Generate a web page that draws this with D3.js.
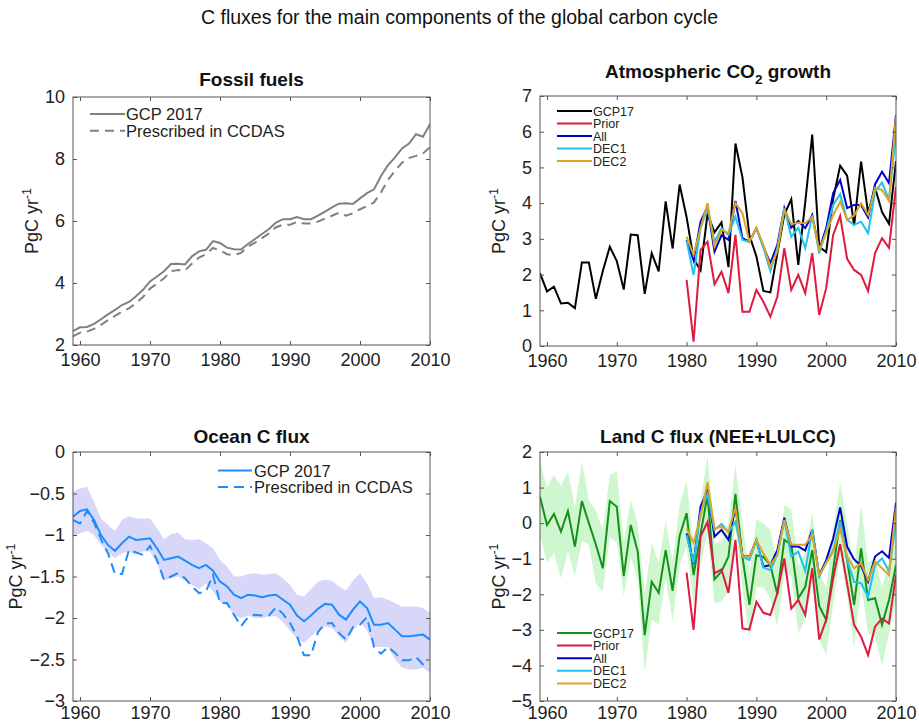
<!DOCTYPE html>
<html><head><meta charset="utf-8">
<script src="https://cdn.jsdelivr.net/npm/d3@7"></script>
<style>
body{margin:0;background:#fff}
text{font-family:"Liberation Sans",Arial,Helvetica,sans-serif}
</style>
</head><body>
<svg id="c" width="919" height="724"></svg>
<script>
// ---------------- DATA ----------------
const years = [1959,1960,1961,1962,1963,1964,1965,1966,1967,1968,1969,1970,1971,1972,1973,1974,1975,1976,1977,1978,1979,1980,1981,1982,1983,1984,1985,1986,1987,1988,1989,1990,1991,1992,1993,1994,1995,1996,1997,1998,1999,2000,2001,2002,2003,2004,2005,2006,2007,2008,2009,2010];
const invYears = [1980,1981,1982,1983,1984,1985,1986,1987,1988,1989,1990,1991,1992,1993,1994,1995,1996,1997,1998,1999,2000,2001,2002,2003,2004,2005,2006,2007,2008,2009,2010];
const xTickValues = [1960,1970,1980,1990,2000,2010];

// Fossil fuels
const fossilGCP = [2.45,2.57,2.58,2.68,2.83,2.99,3.13,3.29,3.39,3.57,
  3.78,4.05,4.21,4.38,4.61,4.62,4.60,4.86,5.02,5.07,
  5.35,5.29,5.14,5.09,5.08,5.26,5.42,5.58,5.74,5.95,
  6.06,6.06,6.13,6.06,6.06,6.17,6.30,6.44,6.56,6.57,
  6.55,6.73,6.90,7.02,7.45,7.80,8.05,8.34,8.50,8.80,
  8.72,9.12];
const fossilCCDAS = [2.28,2.40,2.43,2.52,2.65,2.80,2.94,3.08,3.18,3.35,
  3.55,3.82,3.98,4.15,4.38,4.42,4.40,4.63,4.82,4.93,
  5.13,5.05,4.93,4.90,4.97,5.17,5.30,5.45,5.60,5.80,
  5.88,5.88,5.97,5.92,5.92,5.98,6.08,6.17,6.27,6.17,
  6.25,6.38,6.48,6.60,6.92,7.33,7.62,7.88,8.03,8.10,
  8.18,8.38];

// Atmospheric CO2 growth
const atmGCP = [2.04,1.53,1.66,1.19,1.21,1.06,2.34,2.34,1.32,2.10,
  2.78,2.38,1.58,3.12,3.10,1.46,2.60,2.09,4.05,2.73,
  4.52,3.61,2.44,2.12,3.70,3.18,3.46,2.21,5.67,4.73,
  3.10,2.51,1.54,1.50,2.59,3.68,4.11,2.27,4.03,5.92,
  2.78,2.63,4.12,5.05,4.77,3.38,5.16,3.73,4.43,3.75,
  3.42,5.18];
const atmPrior = [1.85,0.12,2.69,2.92,1.73,2.08,1.48,3.11,0.96,0.96,
  1.57,1.24,0.82,1.38,2.74,1.57,1.99,1.48,2.60,0.87,
  1.62,3.11,3.64,2.44,2.13,1.99,1.54,2.60,3.02,2.75,4.46];
const atmAll = [2.97,2.40,3.48,3.90,2.64,3.10,2.97,4.06,3.02,2.92,
  3.30,2.78,2.32,2.83,3.87,3.31,3.50,3.30,3.67,2.69,
  3.30,4.28,4.65,3.86,3.95,3.95,3.60,4.53,4.88,4.56,6.47];
const atmDEC1 = [2.95,1.99,3.30,3.86,2.92,3.30,3.11,3.62,2.97,2.92,
  3.30,2.75,2.10,2.74,3.86,3.06,3.31,2.74,3.65,2.60,
  3.22,3.95,4.25,3.53,3.39,3.48,3.16,4.32,4.58,4.09,5.96];
const atmDEC2 = [3.06,2.55,3.30,4.00,2.78,3.25,3.16,4.00,3.72,2.92,
  3.30,2.83,2.22,2.64,3.81,3.41,3.45,3.44,3.62,2.69,
  3.16,3.67,4.04,3.53,3.65,4.00,3.67,4.43,4.37,4.06,6.45];

// Ocean C flux
const oceanGCP = [-0.78,-0.71,-0.69,-0.82,-1.00,-1.12,-1.19,-1.10,-1.02,-1.06,
  -1.05,-1.04,-1.16,-1.30,-1.28,-1.26,-1.31,-1.36,-1.40,-1.36,
  -1.43,-1.56,-1.62,-1.72,-1.76,-1.72,-1.73,-1.75,-1.73,-1.72,
  -1.78,-1.84,-1.97,-2.04,-1.97,-1.89,-1.83,-1.84,-1.96,-2.02,
  -1.90,-1.80,-1.88,-2.08,-2.08,-2.06,-2.14,-2.22,-2.22,-2.21,
  -2.20,-2.26];
const oceanCCDAS = [-0.82,-0.86,-0.71,-0.85,-1.05,-1.22,-1.47,-1.47,-1.18,-1.21,
  -1.24,-1.13,-1.30,-1.54,-1.50,-1.46,-1.52,-1.62,-1.70,-1.68,
  -1.48,-1.82,-1.82,-1.96,-2.10,-1.99,-1.96,-1.97,-1.97,-1.87,
  -1.95,-2.06,-2.22,-2.45,-2.45,-2.17,-2.07,-2.06,-2.18,-2.26,
  -2.11,-2.08,-1.99,-2.35,-2.43,-2.35,-2.42,-2.51,-2.51,-2.47,
  -2.56,-2.55];
const oceanUpper = [-0.48,-0.44,-0.42,-0.60,-0.80,-0.88,-0.95,-0.82,-0.77,-0.80,
  -0.80,-0.80,-0.92,-1.05,-0.99,-0.97,-1.05,-1.06,-1.05,-1.10,
  -1.16,-1.30,-1.38,-1.50,-1.50,-1.47,-1.46,-1.48,-1.47,-1.46,
  -1.52,-1.60,-1.72,-1.74,-1.65,-1.56,-1.54,-1.55,-1.62,-1.67,
  -1.55,-1.46,-1.58,-1.76,-1.75,-1.78,-1.82,-1.86,-1.86,-1.86,
  -1.88,-1.94];
const oceanLower = [-1.03,-0.98,-0.95,-1.00,-1.12,-1.22,-1.28,-1.22,-1.20,-1.24,
  -1.20,-1.20,-1.35,-1.55,-1.52,-1.50,-1.55,-1.60,-1.65,-1.58,
  -1.68,-1.80,-1.85,-1.97,-2.00,-1.97,-2.00,-2.00,-1.98,-1.98,
  -2.05,-2.15,-2.25,-2.30,-2.22,-2.15,-2.10,-2.12,-2.22,-2.30,
  -2.15,-2.05,-2.15,-2.35,-2.35,-2.35,-2.50,-2.60,-2.62,-2.62,
  -2.60,-2.66];

// Land C flux
const landGCP = [0.74,-0.05,0.26,-0.24,0.34,-0.66,0.62,0.00,-0.60,-1.27,
  0.62,0.46,-1.49,-0.05,-0.80,-3.15,-1.65,-1.96,-0.76,-1.90,
  -0.36,0.28,-1.46,-0.30,0.79,-1.58,-1.36,-0.94,0.82,-0.94,
  -2.30,-0.90,-0.95,-1.18,-2.00,-0.47,-0.61,-2.11,-1.79,-0.76,
  -2.33,-2.72,-1.30,0.09,-1.04,-2.30,-0.71,-2.16,-2.11,-2.86,
  -2.16,-1.18];
const landUpper = [1.75,1.00,1.35,1.05,1.45,0.45,1.75,0.65,0.35,-0.20,
  1.35,1.45,-0.55,0.65,0.00,-2.00,-0.55,-1.10,0.05,-1.05,
  0.50,1.20,-0.60,0.60,1.90,-0.60,-0.50,0.00,1.65,0.00,
  -1.40,0.10,0.00,-0.20,-1.10,0.50,0.40,-1.20,-0.80,0.30,
  -1.40,-1.80,-0.20,1.15,0.00,-1.30,0.50,-1.10,-1.00,-1.80,
  -1.10,-0.20];
const landLower = [-0.35,-1.10,-0.85,-1.55,-0.80,-1.50,-0.50,-0.60,-1.70,-1.95,
  -0.40,-0.55,-2.05,-0.95,-1.60,-4.20,-2.70,-2.85,-1.55,-2.75,
  -1.20,-0.65,-2.30,-1.20,-0.25,-2.25,-2.20,-1.90,0.00,-1.85,
  -3.20,-1.80,-1.80,-2.10,-2.90,-1.40,-1.50,-3.10,-2.70,-1.70,
  -3.30,-3.70,-2.30,-0.90,-2.00,-3.50,-1.70,-3.10,-3.20,-4.00,
  -3.10,-2.20];
const landPrior = [-1.39,-3.00,-0.38,0.04,-1.41,-1.30,-1.96,-0.47,-2.96,-2.99,
  -2.21,-2.52,-2.58,-1.97,-0.99,-2.40,-2.16,-2.58,-1.27,-3.27,
  -2.72,-1.55,-0.59,-1.70,-2.86,-3.19,-3.71,-2.91,-2.68,-2.82,-1.46];
const landAll = [-0.29,-1.15,0.46,0.93,-0.38,-0.19,-0.47,0.44,-0.93,-0.94,
  -0.47,-1.22,-1.18,-0.76,0.15,-0.66,-0.66,-0.77,-0.19,-1.46,
  -1.04,-0.43,0.44,-0.66,-1.02,-1.20,-1.65,-0.94,-0.79,-0.98,0.58];
const landDEC1 = [-0.33,-1.13,0.30,0.82,-0.19,-0.02,-0.26,0.04,-0.94,-1.04,
  -0.47,-1.25,-1.32,-0.90,0.09,-0.94,-0.80,-1.34,-0.19,-1.51,
  -1.10,-0.76,0.04,-1.04,-1.65,-1.69,-2.07,-1.18,-0.99,-1.36,0.04];
const landDEC2 = [-0.15,-0.55,0.18,1.15,-0.15,-0.10,-0.24,0.44,-0.94,-0.95,
  -0.47,-0.85,-1.18,-0.90,0.09,-0.61,-0.61,-0.61,-0.33,-1.46,
  -1.13,-0.80,-0.17,-0.94,-1.27,-1.13,-1.60,-1.08,-1.27,-1.46,0.45];

const fossilTicks = [2,4,6,8,10];
const atmTicks = [0,1,2,3,4,5,6,7];
const oceanTicks = [0,-0.5,-1,-1.5,-2,-2.5,-3];
const landTicks = [2,1,0,-1,-2,-3,-4,-5];

const invLabels = ["GCP17","Prior","All","DEC1","DEC2"];
const invColors = ["#000000","#e0193f","#0000cd","#1cc3f2","#dba525"];
const landColors = ["#15911a","#e0193f","#0000cd","#1cc3f2","#dba525"];

// ---------------- DRAW ----------------
const svg = d3.select("#c");
svg.append("text").attr("x",459.5).attr("y",24).attr("text-anchor","middle")
  .attr("font-size",19.5).attr("fill","#111")
  .text("C fluxes for the main components of the global carbon cycle");

let clipId = 0;
function makePanel(cfg){
  const g = svg.append("g");
  const x = d3.scaleLinear().domain([1959,2010]).range([cfg.l,cfg.r]);
  const y = d3.scaleLinear().domain(cfg.yDomain).range([cfg.b,cfg.t]);
  const id = "clip"+(clipId++);
  g.append("clipPath").attr("id",id).append("rect")
    .attr("x",cfg.l).attr("y",cfg.t).attr("width",cfg.r-cfg.l).attr("height",cfg.b-cfg.t);
  const plot = g.append("g").attr("clip-path",`url(#${id})`);
  return {g,x,y,plot,cfg};
}
function finishPanel(p, ticks, fmt){
  const {g,x,y,cfg} = p;
  const ax = g.append("g").attr("transform",`translate(0,${cfg.b})`)
    .call(d3.axisBottom(x).tickValues(xTickValues).tickFormat(d3.format("d"))
      .tickSizeInner(-4).tickSizeOuter(0).tickPadding(cfg.xpad));
  const axT = g.append("g").attr("transform",`translate(0,${cfg.t})`)
    .call(d3.axisTop(x).tickValues(xTickValues).tickFormat("").tickSizeInner(-4).tickSizeOuter(0));
  const ay = g.append("g").attr("transform",`translate(${cfg.l},0)`)
    .call(d3.axisLeft(y).tickValues(ticks).tickFormat(fmt).tickSizeInner(-4).tickSizeOuter(0).tickPadding(8));
  const ayR = g.append("g").attr("transform",`translate(${cfg.r},0)`)
    .call(d3.axisRight(y).tickValues(ticks).tickFormat("").tickSizeInner(-4).tickSizeOuter(0));
  [ax,axT,ay,ayR].forEach(a=>{
    a.select(".domain").remove();
    a.selectAll(".tick line").attr("stroke","#555");
    a.selectAll("text").attr("font-size",18).attr("fill","#222")
      .attr("font-family",'"Liberation Sans",Arial,sans-serif');
  });
  g.append("rect").attr("x",cfg.l).attr("y",cfg.t).attr("width",cfg.r-cfg.l).attr("height",cfg.b-cfg.t)
    .attr("fill","none").attr("stroke","#555").attr("stroke-width",1);
  const yl = g.append("text")
    .attr("transform",`translate(${cfg.ylx},${(cfg.t+cfg.b)/2}) rotate(-90)`)
    .attr("text-anchor","middle").attr("font-size",18).attr("fill","#222");
  yl.append("tspan").text("PgC yr");
  yl.append("tspan").attr("dy",-7).attr("font-size",12.5).text("-1");
  const tt = g.append("text").attr("x",(cfg.l+cfg.r)/2).attr("y",cfg.ty)
    .attr("text-anchor","middle").attr("font-size",19).attr("font-weight","bold").attr("fill","#111");
  if(cfg.titleSub){
    tt.append("tspan").text(cfg.title);
    tt.append("tspan").attr("dy",6).attr("font-size",13.5).text(cfg.titleSub);
    tt.append("tspan").attr("dy",-6).text(cfg.title2);
  } else tt.text(cfg.title);
}
function lineFor(p, xs){
  return d3.line().x((d,i)=>p.x(xs[i])).y(d=>p.y(d));
}
function areaFor(p, xs, lower){
  return d3.area().x((d,i)=>p.x(xs[i])).y0((d,i)=>p.y(lower[i])).y1(d=>p.y(d));
}

// Panel 1: Fossil fuels
const p1 = makePanel({l:73,r:430,t:97,b:345,yDomain:[2,10],ylx:38,ty:86,xpad:8,title:"Fossil fuels"});
p1.plot.append("path").datum(fossilCCDAS).attr("d",lineFor(p1,years))
  .attr("fill","none").attr("stroke","#808080").attr("stroke-width",2).attr("stroke-dasharray","9,6");
p1.plot.append("path").datum(fossilGCP).attr("d",lineFor(p1,years))
  .attr("fill","none").attr("stroke","#808080").attr("stroke-width",2);
finishPanel(p1, fossilTicks, d3.format("d"));
[["GCP 2017",null],["Prescribed in CCDAS","9,6"]].forEach((e,i)=>{
  const yy = 114 + i*16.8;
  p1.g.append("line").attr("x1",90).attr("x2",125).attr("y1",yy).attr("y2",yy)
    .attr("stroke","#808080").attr("stroke-width",2).attr("stroke-dasharray",e[1]);
  p1.g.append("text").attr("x",126).attr("y",yy+6).attr("font-size",16.5).attr("fill","#222").text(e[0]);
});

// Panel 2: Atmospheric CO2 growth
const p2 = makePanel({l:540,r:896,t:96,b:346,yDomain:[0,7],ylx:505,ty:78,xpad:8,title:"Atmospheric CO",titleSub:"2",title2:" growth"});
p2.plot.append("path").datum(atmGCP).attr("d",lineFor(p2,years))
  .attr("fill","none").attr("stroke",invColors[0]).attr("stroke-width",2);
[atmPrior,atmAll,atmDEC1,atmDEC2].forEach((s,k)=>{
  p2.plot.append("path").datum(s).attr("d",lineFor(p2,invYears))
    .attr("fill","none").attr("stroke",invColors[k+1]).attr("stroke-width",2);
});
finishPanel(p2, atmTicks, d3.format("d"));
invLabels.forEach((lab,i)=>{
  const yy = 111 + i*12.5;
  p2.g.append("line").attr("x1",557).attr("x2",592).attr("y1",yy).attr("y2",yy)
    .attr("stroke",invColors[i]).attr("stroke-width",2);
  p2.g.append("text").attr("x",593).attr("y",yy+4.5).attr("font-size",12.5).attr("fill","#222").text(lab);
});

// Panel 3: Ocean C flux
const p3 = makePanel({l:73,r:430,t:452,b:701,yDomain:[-3,0],ylx:22,ty:443,xpad:5,title:"Ocean C flux"});
p3.plot.append("path").datum(oceanUpper).attr("d",areaFor(p3,years,oceanLower))
  .attr("fill","#d7d7fa").attr("stroke","none");
p3.plot.append("path").datum(oceanCCDAS).attr("d",lineFor(p3,years))
  .attr("fill","none").attr("stroke","#1e8cff").attr("stroke-width",2).attr("stroke-dasharray","10,6");
p3.plot.append("path").datum(oceanGCP).attr("d",lineFor(p3,years))
  .attr("fill","none").attr("stroke","#1e8cff").attr("stroke-width",2);
finishPanel(p3, oceanTicks, d=>d===0?"0":(d%1===0?d3.format("d")(d):d3.format(".1f")(d)));
[["GCP 2017",null],["Prescribed in CCDAS","10,6"]].forEach((e,i)=>{
  const yy = 470.5 + i*16.5;
  p3.g.append("line").attr("x1",218).attr("x2",252).attr("y1",yy).attr("y2",yy)
    .attr("stroke","#1e8cff").attr("stroke-width",2).attr("stroke-dasharray",e[1]);
  p3.g.append("text").attr("x",254).attr("y",yy+6).attr("font-size",16.5).attr("fill","#222").text(e[0]);
});

// Panel 4: Land C flux
const p4 = makePanel({l:540,r:896,t:452,b:701,yDomain:[-5,2],ylx:505,ty:443,xpad:5,title:"Land C flux (NEE+LULCC)"});
p4.plot.append("path").datum(landUpper).attr("d",areaFor(p4,years,landLower))
  .attr("fill","#cff7cf").attr("stroke","none");
p4.plot.append("path").datum(landGCP).attr("d",lineFor(p4,years))
  .attr("fill","none").attr("stroke",landColors[0]).attr("stroke-width",2);
[landPrior,landAll,landDEC1,landDEC2].forEach((s,k)=>{
  p4.plot.append("path").datum(s).attr("d",lineFor(p4,invYears))
    .attr("fill","none").attr("stroke",landColors[k+1]).attr("stroke-width",2);
});
finishPanel(p4, landTicks, d3.format("d"));
invLabels.forEach((lab,i)=>{
  const yy = 633 + i*12.6;
  p4.g.append("line").attr("x1",557).attr("x2",592).attr("y1",yy).attr("y2",yy)
    .attr("stroke",landColors[i]).attr("stroke-width",2);
  p4.g.append("text").attr("x",593).attr("y",yy+4.5).attr("font-size",12.5).attr("fill","#222").text(lab);
});
</script>
</body></html>
